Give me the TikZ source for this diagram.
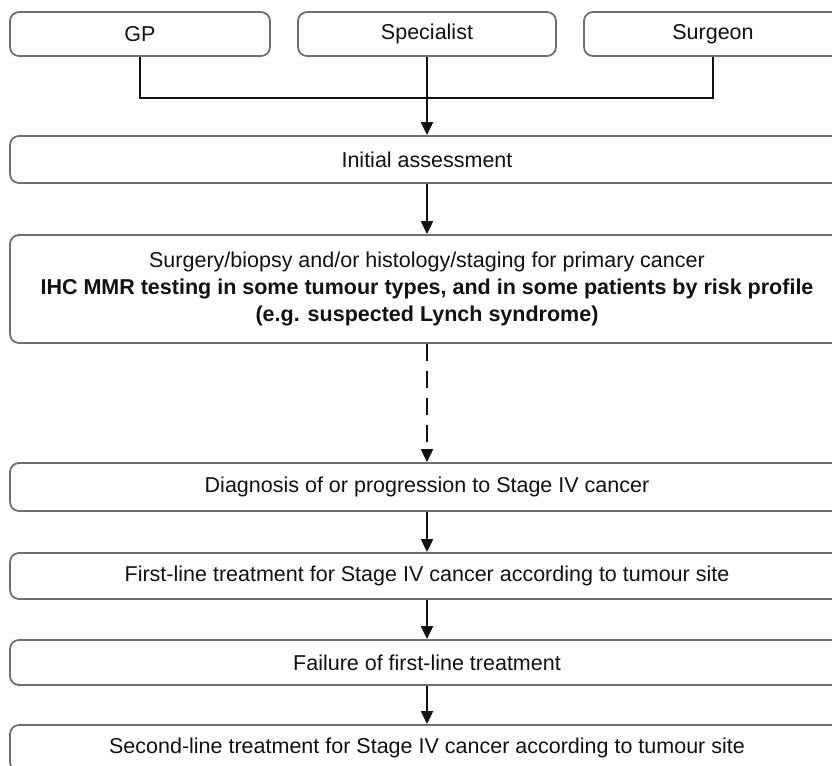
\documentclass[tikz,border=0pt]{standalone}
\usepackage{fontspec}
\setmainfont{Liberation Sans}
\usetikzlibrary{arrows.meta}
\definecolor{boxgrey}{HTML}{6E6E6E}
\definecolor{inkblack}{HTML}{111111}

\tikzset{
  stepbox/.style={draw=boxgrey, line width=0.9pt, rounded corners=4.5pt,
    fill=white, inner sep=0pt, align=center, text=inkblack,
    font=\fontsize{10.75}{13.5}\selectfont},
  link/.style={draw=inkblack, line width=1pt,
    -{Triangle[length=6.5pt, width=6pt]}},
  plainlink/.style={draw=inkblack, line width=1pt},
}

\begin{document}
\begin{tikzpicture}[x=0.5pt, y=-0.5pt]

  % === Referral pathway, coordinates in pixels of the 832x766 frame ===
  \clip (0,0) rectangle (832,766);

  \def\smallW{129pt}  % top three boxes
  \def\wideW{417pt}   % full-width step boxes

  % Referring clinicians
  \node[stepbox, minimum width=130pt, minimum height=22pt] (gp)   at (140,34) {GP};
  \node[stepbox, minimum width=\smallW, minimum height=22pt] (spec) at (427,34) {Specialist};
  \node[stepbox, minimum width=\smallW, minimum height=22pt] (surg) at (713,34) {Surgeon};

  % Steps of the pathway
  \node[stepbox, minimum width=\wideW, minimum height=23.5pt] (init) at (427,159.5)
    {Initial assessment};
  \node[stepbox, minimum width=\wideW, minimum height=54pt] (prim) at (427,289)
    {Surgery/biopsy and/or histology/staging for primary cancer\\
     \textbf{IHC MMR testing in some tumour types, and in some patients by risk profile}\\
     \textbf{(e.g. suspected Lynch syndrome)}};
  \node[stepbox, minimum width=\wideW, minimum height=24pt] (diag) at (427,487)
    {Diagnosis of or progression to Stage IV cancer};
  \node[stepbox, minimum width=\wideW, minimum height=23pt] (first) at (427,576)
    {First-line treatment for Stage IV cancer according to tumour site};
  \node[stepbox, minimum width=\wideW, minimum height=22.5pt] (fail) at (427,662.5)
    {Failure of first-line treatment};
  \node[stepbox, minimum width=\wideW, minimum height=23pt] (second) at (427,748)
    {Second-line treatment for Stage IV cancer according to tumour site};

  % Joining the three referrers
  \coordinate (join) at (427,98);
  \draw[plainlink] (gp.south) |- (join) -| (surg.south);
  \draw[link] (spec.south) -- (init.north);

  % Arrows down the pathway
  \draw[link] (init) -- (prim);
  \draw[link, dash pattern=on 8.5pt off 5pt] (prim) -- (diag);
  \draw[link] (diag) -- (first);
  \draw[link] (first) -- (fail);
  \draw[link] (fail) -- (second);

\end{tikzpicture}
\end{document}
